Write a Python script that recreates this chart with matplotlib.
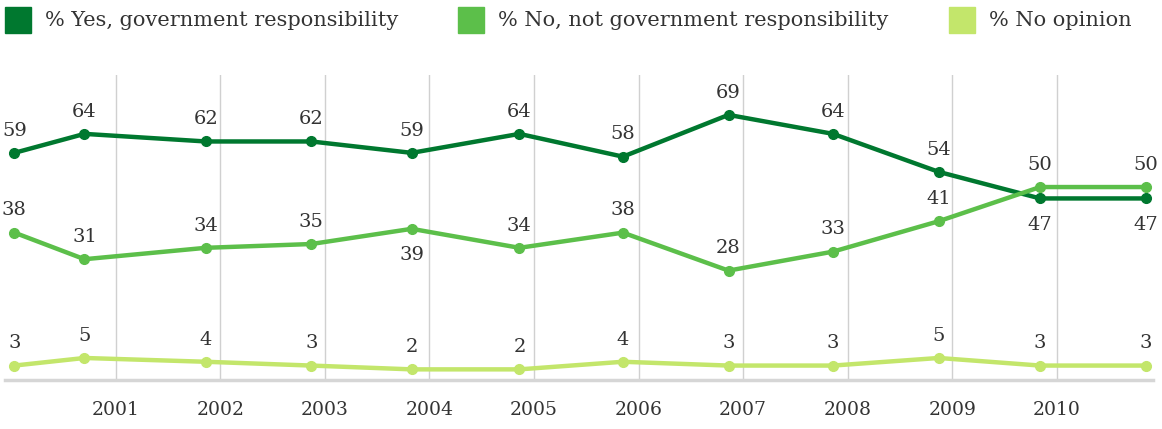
import matplotlib
matplotlib.use("Agg")
import matplotlib.pyplot as plt
from matplotlib.patches import Rectangle

# survey dates as decimal years
dates = [2000.03, 2000.70, 2001.86, 2002.87, 2003.83, 2004.86,
         2005.85, 2006.86, 2007.86, 2008.87, 2009.84, 2010.85]
yes_vals = [59, 64, 62, 62, 59, 64, 58, 69, 64, 54, 47, 47]
no_vals = [38, 31, 34, 35, 39, 34, 38, 28, 33, 41, 50, 50]
noop_vals = [3, 5, 4, 3, 2, 2, 4, 3, 3, 5, 3, 3]
years = list(range(2001, 2011))

names = ["% Yes, government responsibility",
         "% No, not government responsibility",
         "% No opinion"]
colors = ["#00782f", "#5cbf4a", "#c3e66b"]

# labels below the point (index per series)
below = {0: [10, 11], 1: [4], 2: []}

plt.rcParams['font.family'] = ['DejaVu Serif']
txt = "#333333"

fig = plt.figure(figsize=(11.62, 4.29), dpi=100)
ax = fig.add_axes([5 / 1162, 49 / 429, 1148 / 1162, 305 / 429])

for i, vals in enumerate([yes_vals, no_vals, noop_vals]):
    ax.plot(dates, vals, color=colors[i], lw=3.2, marker="o", ms=7,
            solid_capstyle="round", zorder=3)
    for j, (x, v) in enumerate(zip(dates, vals)):
        off = -19 if j in below[i] else 16
        ax.annotate(str(v), (x, v), xytext=(0, off), textcoords="offset points",
                    ha="center", va="center", fontsize=14, color=txt)

ax.set_xlim(1999.94, 2010.92)
ax.set_ylim(-0.8, 79.5)
ax.set_xticks(years)
ax.set_xticklabels([str(y) for y in years], fontsize=13.5, color=txt)
ax.tick_params(axis="x", length=0, pad=15)
ax.set_yticks([])
ax.grid(axis="x", color="#d0d0d0", lw=1)
for s in ["top", "left", "right"]:
    ax.spines[s].set_visible(False)
ax.spines["bottom"].set_color("#d6d6d6")
ax.spines["bottom"].set_linewidth(2.5)

# legend row
leg_x = [5, 458, 949]
for i in range(3):
    fig.add_artist(Rectangle((leg_x[i] / 1162, 396 / 429), 26 / 1162, 26 / 429,
                             transform=fig.transFigure, color=colors[i]))
    fig.text((leg_x[i] + 40) / 1162, 409 / 429, names[i], fontsize=15,
             color=txt, va="center", ha="left")

fig.savefig("out.png", dpi=100)
